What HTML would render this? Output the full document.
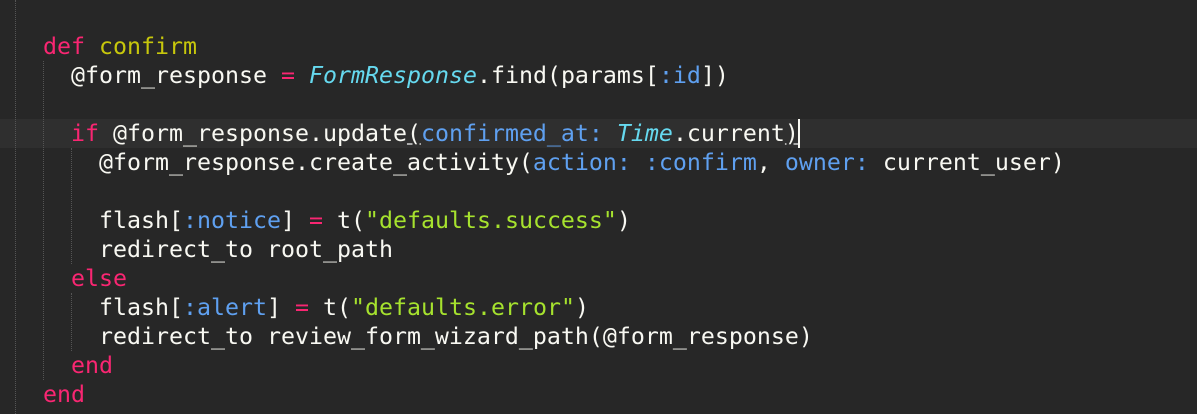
<!DOCTYPE html>
<html><head><style>
html,body{margin:0;padding:0;background:#272727;width:1197px;height:414px;overflow:hidden}
.hl{position:absolute;left:0;top:119px;width:1197px;height:29px;background:#2f2f2f}
.g{position:absolute;width:0;border-left:1px dotted #555}
pre{position:absolute;left:43px;top:32px;margin:0;font-family:"DejaVu Sans Mono","Liberation Mono",monospace;font-size:23.25px;line-height:29px;color:#f8f8f2}
.k{color:#f92672}.f{color:#c7c70c}.c{color:#66d9ef;font-style:italic}.b{color:#5fa0f0}.s{color:#a6e22e}
.u{text-decoration:underline;text-decoration-color:#aaa}
.cur{position:absolute;left:798px;top:119px;width:2px;height:29px;background:#f8f8f2}
</style></head><body>
<div class="hl"></div>
<div class="g" style="left:15px;top:0;height:414px"></div>
<div class="g" style="left:43px;top:61px;height:319px"></div>
<div class="g" style="left:71px;top:148px;height:116px"></div>
<div class="g" style="left:71px;top:293px;height:58px"></div>
<pre><span class="k">def</span> <span class="f">confirm</span>
  @form_response <span class="k">=</span> <span class="c">FormResponse</span>.find(params[<span class="b">:id</span>])

  <span class="k">if</span> @form_response.update<span class="u">(</span><span class="b">confirmed_at:</span> <span class="c">Time</span>.current<span class="u">)</span>
    @form_response.create_activity(<span class="b">action:</span> <span class="b">:confirm</span>, <span class="b">owner:</span> current_user)

    flash[<span class="b">:notice</span>] <span class="k">=</span> t(<span class="s">"defaults.success"</span>)
    redirect_to root_path
  <span class="k">else</span>
    flash[<span class="b">:alert</span>] <span class="k">=</span> t(<span class="s">"defaults.error"</span>)
    redirect_to review_form_wizard_path(@form_response)
  <span class="k">end</span>
<span class="k">end</span></pre>
<div class="cur"></div>
</body></html>
